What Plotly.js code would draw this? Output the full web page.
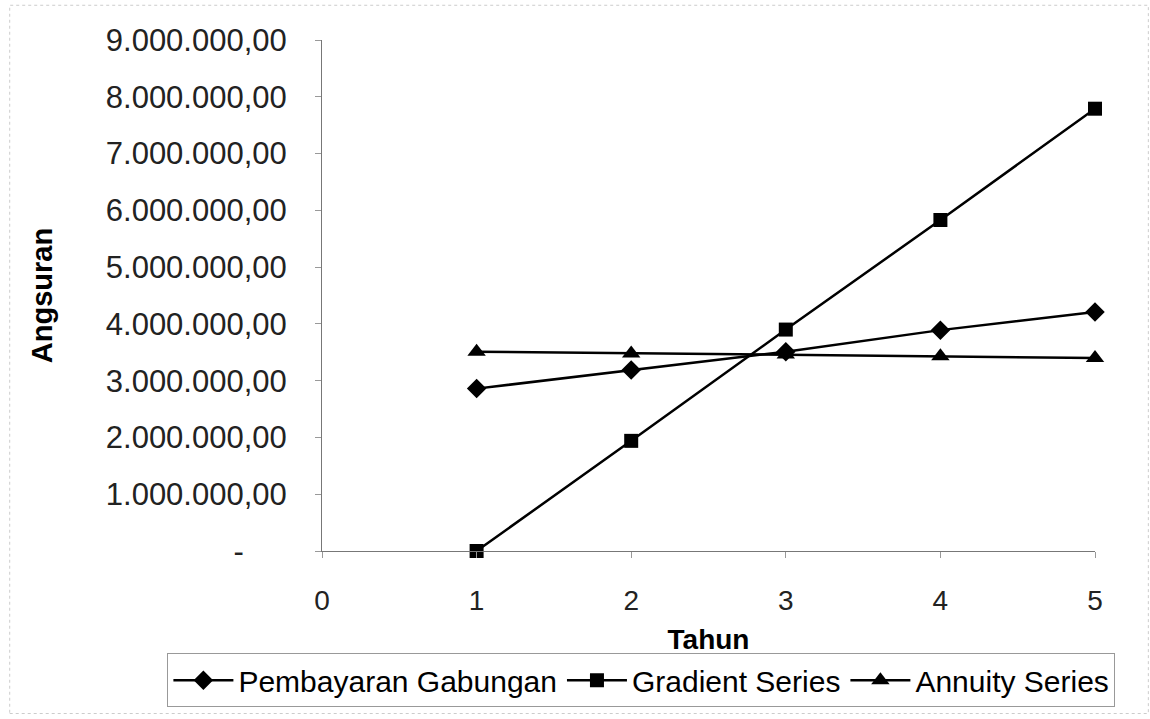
<!DOCTYPE html>
<html>
<head>
<meta charset="utf-8">
<script src="https://cdn.plot.ly/plotly-3.0.1.min.js"></script>
<style>html,body{margin:0;padding:0;background:#fff;}#chart{width:1150px;height:719px;}</style>
</head>
<body>
<div id="chart"></div>
<script>
var tahun = [1, 2, 3, 4, 5];
var pembayaranGabungan = [2860000, 3190000, 3510000, 3890000, 4210000];
var gradientSeries = [0, 1940000, 3900000, 5830000, 7790000];
var annuitySeries = [3510000, 3480000, 3460000, 3430000, 3400000];
var xTickVals = [0, 1, 2, 3, 4, 5];
var yTickVals = [0, 1000000, 2000000, 3000000, 4000000, 5000000, 6000000, 7000000, 8000000, 9000000];
var yTickText = ['-\u00a0\u00a0\u00a0\u00a0\u00a0', '1.000.000,00', '2.000.000,00', '3.000.000,00', '4.000.000,00', '5.000.000,00', '6.000.000,00', '7.000.000,00', '8.000.000,00', '9.000.000,00'];

var font = 'Liberation Sans, Arial, sans-serif';
function tr(name, y, sym, size) {
  return {
    x: tahun, y: y, name: name, type: 'scatter', mode: 'lines+markers',
    line: {color: '#000', width: 2.5},
    marker: {symbol: sym, size: size, color: '#000'},
    cliponaxis: false
  };
}
var data = [
  tr('Pembayaran Gabungan', pembayaranGabungan, 'diamond', 15),
  tr('Gradient Series', gradientSeries, 'square', 14),
  tr('Annuity Series', annuitySeries, 'triangle-up', 16)
];
var layout = {
  width: 1150, height: 719,
  margin: {l: 322, r: 55, t: 40, b: 166},
  paper_bgcolor: '#fff', plot_bgcolor: '#fff',
  font: {family: font, color: '#000', size: 28},
  showlegend: true,
  legend: {
    orientation: 'h', x: -0.2, xanchor: 'left', y: -0.2, yanchor: 'top',
    font: {family: font, size: 30, color: '#000'},
    bordercolor: '#999', borderwidth: 1, bgcolor: '#fff',
    itemwidth: 60, tracegroupgap: 0
  },
  xaxis: {
    range: [0, 5], tickvals: xTickVals, ticktext: xTickVals.map(String),
    showgrid: false, zeroline: false, showline: true, linecolor: '#777', linewidth: 1,
    ticks: 'outside', ticklen: 6, tickcolor: '#999', ticklabelstandoff: 18,
    tickfont: {family: font, size: 28, color: '#222'},
    title: {text: '<b>Tahun</b>', font: {family: font, size: 28, color: '#000'}, standoff: 14},
    automargin: false
  },
  yaxis: {
    range: [0, 9000000], tickvals: yTickVals, ticktext: yTickText,
    showgrid: false, zeroline: false, showline: true, linecolor: '#777', linewidth: 1,
    ticks: 'outside', ticklen: 6, tickcolor: '#999', ticklabelstandoff: 22,
    tickfont: {family: font, size: 31, color: '#222'},
    title: {text: '<b>Angsuran</b>', font: {family: font, size: 29, color: '#000'}, standoff: 44},
    automargin: false
  },
  shapes: [{type: 'rect', xref: 'paper', yref: 'paper', x0: -0.404, x1: 1.069, y0: -0.318, y1: 1.068,
    line: {color: '#ccc', width: 1, dash: 'dot'}}]
};
Plotly.newPlot('chart', data, layout, {displayModeBar: false, staticPlot: true});
</script>
</body>
</html>
